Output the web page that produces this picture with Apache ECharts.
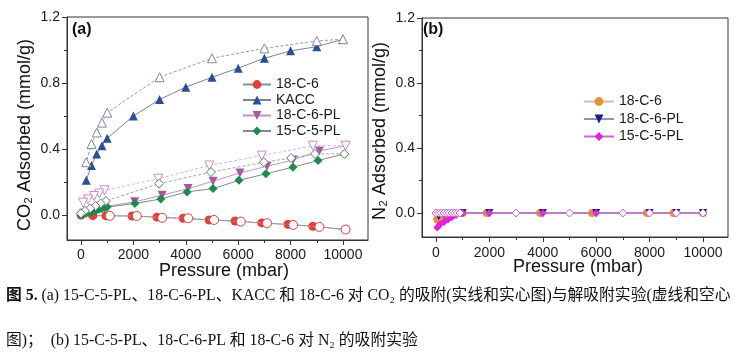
<!DOCTYPE html>
<html><head><meta charset="utf-8">
<script src="https://cdn.jsdelivr.net/npm/echarts@6/dist/echarts.min.js"></script>
<style>html,body{margin:0;padding:0;background:#fff}#c{width:740px;height:358px}</style>
</head><body><div id="c"></div>
<script>
// ---- axis ticks ----
const pressureTicks = [0, 2000, 4000, 6000, 8000, 10000];
const pressureMinorTicks = [1000, 3000, 5000, 7000, 9000];
const yTicks = [0, 0.4, 0.8, 1.2];
const yMinorTicks = [0.2, 0.6, 1.0];

// ---- legends ----
const legendA = ['18-C-6', 'KACC', '18-C-6-PL', '15-C-5-PL'];
const legendB = ['18-C-6', '18-C-6-PL', '15-C-5-PL'];

// ---- panel (a): CO2, [pressure mbar, mmol/g] ----
const c18Ads = [[0,0],[450,-0.004],[950,-0.005],[1950,-0.006],[2900,-0.013],[3900,-0.02],[4890,-0.03],[5880,-0.037],[6900,-0.048],[7900,-0.057],[8850,-0.068],[10100,-0.088]];
const c18Des = [[10100,-0.088],[9100,-0.072],[8100,-0.06],[7100,-0.05],[6100,-0.04],[5080,-0.03],[4090,-0.02],[3100,-0.017],[2130,-0.006],[1100,-0.005]];
const kaccAds = [[200,0.21],[400,0.30],[600,0.37],[800,0.42],[1000,0.465],[2000,0.60],[3000,0.70],[4000,0.775],[5000,0.835],[6000,0.89],[7000,0.95],[8000,0.995],[9000,1.02],[10000,1.065]];
const kaccDes = [[10000,1.065],[9000,1.055],[7000,1.01],[5000,0.95],[3000,0.835],[1000,0.62],[800,0.56],[600,0.50],[400,0.43],[200,0.32]];
const pl18Ads = [[100,0.01],[300,0.02],[500,0.03],[700,0.04],[900,0.05],[2050,0.08],[3100,0.12],[4090,0.16],[5040,0.205],[6070,0.255],[7100,0.295],[8100,0.333],[9100,0.388],[10100,0.42]];
const pl18Des = [[10100,0.42],[8850,0.42],[6900,0.36],[4900,0.30],[2950,0.22],[900,0.15],[700,0.13],[500,0.115],[270,0.095],[80,0.075]];
const pl15Ads = [[0,0],[100,0.005],[200,0.01],[300,0.015],[400,0.02],[500,0.025],[600,0.03],[700,0.035],[800,0.04],[900,0.045],[1000,0.048],[2060,0.07],[3050,0.097],[4050,0.14],[5040,0.16],[6030,0.21],[7060,0.25],[8090,0.29],[9050,0.33],[10050,0.37]];
const pl15Des = [[10050,0.37],[8930,0.37],[8020,0.345],[6980,0.32],[4960,0.26],[2980,0.19],[950,0.085],[750,0.07],[550,0.055],[350,0.04],[150,0.025],[0,0.01]];

// ---- panel (b): N2 ----
const b18Ads = [[50,-0.04],[200,-0.025],[400,-0.012],[1000,0],[1900,0],[3900,0],[5850,0],[7900,0],[8900,0],[10000,0]];
const bpl18Ads = [[100,-0.02],[300,-0.01],[1000,0],[2000,0],[4000,0],[6000,0],[8000,0],[9000,0],[10000,0]];
const bpl15Ads = [[50,-0.09],[150,-0.07],[300,-0.055],[450,-0.04],[600,-0.025],[750,-0.012],[1000,0],[2000,0],[4000,0],[6000,0],[8000,0],[9000,0],[10000,0]];
const bDes = [[0,0],[100,0],[200,0],[300,0],[400,0],[500,0],[600,0],[700,0],[800,0],[900,0],[3000,0],[5000,0],[7000,0],[8000,0],[9000,0],[10000,0]];

const SANS = '"Liberation Sans", Arial, sans-serif';
const SERIF = '"Liberation Serif", "Noto Sans CJK SC", serif';

function xAx(grid, min, max, margin) {
  return [
    { gridIndex: grid, type: 'value', min, max, position: 'bottom',
      axisLine: { show: true, onZero: false, lineStyle: { color: '#333', width: 1 } },
      axisTick: { show: true, customValues: pressureTicks, length: 5, lineStyle: { color: '#333' } },
      axisLabel: { customValues: pressureTicks, margin, fontSize: 14, color: '#1a1a1a', fontFamily: SANS,
        formatter: v => String(Math.round(v)) },
      splitLine: { show: false } },
    { gridIndex: grid, type: 'value', min, max, position: 'bottom',
      axisLine: { show: false, onZero: false },
      axisTick: { show: true, customValues: pressureMinorTicks, length: 3, lineStyle: { color: '#333' } },
      axisLabel: { show: false }, splitLine: { show: false } }
  ];
}
function yAx(grid, min) {
  return [
    { gridIndex: grid, type: 'value', min, max: 1.2, position: 'left',
      axisLine: { show: true, onZero: false, lineStyle: { color: '#333', width: 1 } },
      axisTick: { show: true, customValues: yTicks, length: 5, lineStyle: { color: '#333' } },
      axisLabel: { customValues: yTicks, margin: 7, fontSize: 14, color: '#1a1a1a', fontFamily: SANS,
        formatter: v => v.toFixed(1) },
      splitLine: { show: false } },
    { gridIndex: grid, type: 'value', min, max: 1.2, position: 'left',
      axisLine: { show: false, onZero: false },
      axisTick: { show: true, customValues: yMinorTicks, length: 3, lineStyle: { color: '#333' } },
      axisLabel: { show: false }, splitLine: { show: false } }
  ];
}

function ser(name, data, axis, o) {
  return {
    name, type: 'line', data, xAxisIndex: axis, yAxisIndex: axis,
    symbol: o.symbol, symbolSize: o.size || 9, symbolRotate: o.rotate || 0,
    showSymbol: true, z: o.z || 2,
    lineStyle: { color: o.line, width: 1, type: o.dash ? [3, 2] : 'solid' },
    itemStyle: o.open ? { color: '#fff', borderColor: o.color, borderWidth: 1 } : { color: o.color, borderWidth: 0 },
    emphasis: { disabled: true }, animation: false
  };
}

const series = [
  // panel (a) adsorption (filled, solid lines)
  ser('18-C-6', c18Ads, 0, { symbol: 'circle', color: '#e0403c', line: '#8c8c8c' }),
  ser('KACC', kaccAds, 0, { symbol: 'triangle', color: '#2b4f96', line: '#7a8494' }),
  ser('18-C-6-PL', pl18Ads, 0, { symbol: 'triangle', rotate: 180, color: '#a8589e', line: '#b89ab4' }),
  ser('15-C-5-PL', pl15Ads, 0, { symbol: 'diamond', color: '#1e8a4c', line: '#7e8e84' }),
  // panel (a) desorption (hollow, dashed lines)
  ser('a-des-18-C-6', c18Des, 0, { symbol: 'circle', open: true, color: '#e0403c', line: '#a0a0a0', dash: true, z: 3 }),
  ser('a-des-KACC', kaccDes, 0, { symbol: 'triangle', open: true, color: '#7e889a', line: '#9a9a9a', dash: true, z: 3 }),
  ser('a-des-18-C-6-PL', pl18Des, 0, { symbol: 'triangle', rotate: 180, open: true, color: '#cf8cc6', line: '#d8b4d4', dash: true, z: 3 }),
  ser('a-des-15-C-5-PL', pl15Des, 0, { symbol: 'diamond', open: true, color: '#5e7a68', line: '#a0a8a2', dash: true, z: 3 }),
  // panel (b)
  ser('b:18-C-6', b18Ads, 2, { symbol: 'circle', size: 8, color: '#e8903a', line: '#d8b8a8' }),
  ser('b:18-C-6-PL', bpl18Ads, 2, { symbol: 'triangle', rotate: 180, size: 8, color: '#1c1c80', line: '#9090b8' }),
  ser('b:15-C-5-PL', bpl15Ads, 2, { symbol: 'diamond', size: 8, color: '#e020d8', line: '#c070d0' }),
  ser('b-des', bDes, 2, { symbol: 'diamond', size: 8, open: true, color: '#d060d8', line: '#b070c0', z: 3 })
];

const chart = echarts.init(document.getElementById('c'), null, { renderer: 'canvas' });
chart.setOption({
  backgroundColor: '#fff',
  animation: false,
  grid: [
    { left: 67, top: 17, width: 301, height: 223, show: true, borderColor: '#333', borderWidth: 1, backgroundColor: 'transparent' },
    { left: 422, top: 18, width: 306, height: 219, show: true, borderColor: '#333', borderWidth: 1, backgroundColor: 'transparent' }
  ],
  xAxis: [...xAx(0, -534, 10955, 8), ...xAx(1, -524, 10937, 9)],
  yAxis: [...yAx(0, -0.1515), ...yAx(1, -0.1477)],
  legend: [
    { data: legendA, orient: 'vertical', left: 242, top: 77.5, padding: 0, itemWidth: 28, itemHeight: 11, itemGap: 1.5,
      textStyle: { fontSize: 14, color: '#1a1a1a', fontFamily: SANS, lineHeight: 11 }, selectedMode: false },
    { data: legendB.map(n => 'b:' + n), orient: 'vertical', left: 583, top: 94.5, padding: 0, itemWidth: 30, itemHeight: 11, itemGap: 3.5,
      formatter: n => n.replace('b:', ''),
      textStyle: { fontSize: 14, color: '#1a1a1a', fontFamily: SANS, lineHeight: 11 }, selectedMode: false }
  ],
  graphic: [
    { type: 'text', left: 72, top: 22, style: { text: '(a)', font: 'bold 16px ' + SANS, fill: '#111' } },
    { type: 'text', left: 423, top: 22, style: { text: '(b)', font: 'bold 16px ' + SANS, fill: '#111' } },
    { type: 'text', x: 224, y: 271, style: { text: 'Pressure (mbar)', font: '18px ' + SANS, fill: '#111', align: 'center', verticalAlign: 'middle' } },
    { type: 'text', x: 578, y: 267, style: { text: 'Pressure (mbar)', font: '18px ' + SANS, fill: '#111', align: 'center', verticalAlign: 'middle' } },
    { type: 'text', x: 25, y: 135, rotation: Math.PI / 2, style: { text: 'CO₂ Adsorbed (mmol/g)', font: '18px ' + SANS, fill: '#111', align: 'center', verticalAlign: 'middle' } },
    { type: 'text', x: 380, y: 131, rotation: Math.PI / 2, style: { text: 'N₂ Adsorbed (mmol/g)', font: '18px ' + SANS, fill: '#111', align: 'center', verticalAlign: 'middle' } },
    { type: 'text', x: 6, y: 296, style: {
        text: '{b|图 5.} (a) 15-C-5-PL、18-C-6-PL、KACC 和 18-C-6 对 CO₂ 的吸附(实线和实心图)与解吸附实验(虚线和空心',
        font: '15.8px ' + SERIF, fill: '#111', verticalAlign: 'middle',
        rich: { b: { fontWeight: 'bold', fontSize: 15.8, fontFamily: SERIF } } } },
    { type: 'text', x: 6, y: 341, style: {
        text: '图)；  (b) 15-C-5-PL、18-C-6-PL 和 18-C-6 对 N₂ 的吸附实验',
        font: '15.8px ' + SERIF, fill: '#111', verticalAlign: 'middle' } }
  ],
  series
});
</script></body></html>
